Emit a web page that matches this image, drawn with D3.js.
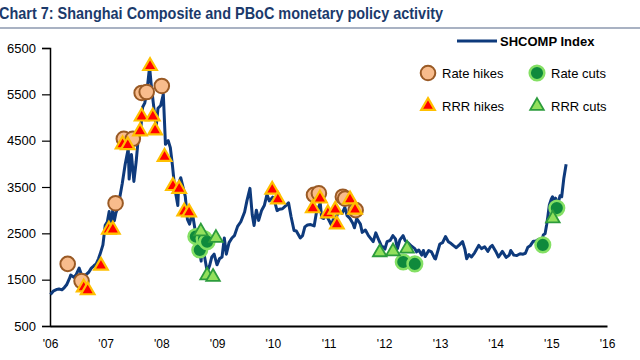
<!DOCTYPE html>
<html><head><meta charset="utf-8">
<script src="https://cdn.jsdelivr.net/npm/d3@7"></script>
<style>
html,body{margin:0;padding:0;background:#fff;}
svg{display:block;}
</style></head>
<body>
<svg id="c" width="640" height="360"></svg>
<script>
// ---------- DATA ----------
const titleText = "Chart 7: Shanghai Composite and PBoC monetary policy activity";
const yTicks = [500, 1500, 2500, 3500, 4500, 5500, 6500];
const xTickYears = [2006,2007,2008,2009,2010,2011,2012,2013,2014,2015,2016];
const xTickLabels = ["'06","'07","'08","'09","'10","'11","'12","'13","'14","'15","'16"];

const shDates = [
"2006-01-04","2006-01-25","2006-02-15","2006-03-01","2006-03-20","2006-04-05","2006-04-20","2006-05-08","2006-05-17","2006-06-07","2006-06-20","2006-07-11","2006-07-25","2006-08-07","2006-08-25","2006-09-12","2006-09-29","2006-10-16","2006-10-31","2006-11-15","2006-11-30","2006-12-14","2006-12-29",
"2007-01-12","2007-01-24","2007-02-02","2007-02-16","2007-02-27","2007-03-09","2007-03-23","2007-04-06","2007-04-20","2007-05-09","2007-05-29","2007-06-04","2007-06-19","2007-07-05","2007-07-20","2007-08-03","2007-08-17","2007-08-31","2007-09-14","2007-09-28","2007-10-16","2007-10-26","2007-11-09","2007-11-28","2007-12-10","2007-12-28",
"2008-01-14","2008-01-28","2008-02-15","2008-02-29","2008-03-14","2008-03-28","2008-04-18","2008-04-24","2008-05-07","2008-05-22","2008-06-06","2008-06-20","2008-07-04","2008-07-22","2008-08-08","2008-08-20","2008-09-04","2008-09-18","2008-09-25","2008-10-10","2008-10-28","2008-11-12","2008-11-27","2008-12-12","2008-12-31",
"2009-01-16","2009-02-02","2009-02-17","2009-03-02","2009-03-20","2009-04-08","2009-04-24","2009-05-15","2009-06-05","2009-06-30","2009-07-15","2009-08-04","2009-08-19","2009-08-31","2009-09-15","2009-09-30","2009-10-20","2009-11-06","2009-11-24","2009-12-09","2009-12-31",
"2010-01-11","2010-01-29","2010-02-12","2010-03-05","2010-03-31","2010-04-14","2010-04-30","2010-05-20","2010-06-04","2010-06-30","2010-07-15","2010-07-30","2010-08-16","2010-09-06","2010-09-29","2010-10-15","2010-11-08","2010-11-17","2010-12-01","2010-12-14","2010-12-31",
"2011-01-20","2011-02-01","2011-02-22","2011-03-09","2011-03-31","2011-04-18","2011-05-03","2011-05-20","2011-06-10","2011-06-20","2011-07-05","2011-07-29","2011-08-10","2011-08-31","2011-09-20","2011-10-21","2011-11-07","2011-11-30","2011-12-15","2011-12-30",
"2012-01-06","2012-01-20","2012-02-10","2012-02-27","2012-03-15","2012-03-28","2012-04-13","2012-05-04","2012-05-18","2012-06-04","2012-06-29","2012-07-20","2012-07-31","2012-08-15","2012-09-03","2012-09-14","2012-09-26","2012-10-19","2012-11-06","2012-11-27","2012-12-03","2012-12-31",
"2013-01-18","2013-02-06","2013-02-25","2013-03-15","2013-03-29","2013-04-18","2013-05-08","2013-05-29","2013-06-13","2013-06-25","2013-07-10","2013-07-26","2013-08-16","2013-09-12","2013-09-30","2013-10-21","2013-11-11","2013-11-26","2013-12-10","2013-12-31",
"2014-01-20","2014-02-14","2014-03-11","2014-03-31","2014-04-10","2014-04-30","2014-05-20","2014-06-10","2014-06-30","2014-07-15","2014-07-31","2014-08-15","2014-09-05","2014-09-19","2014-10-10","2014-10-27","2014-11-10","2014-11-21","2014-12-01","2014-12-09","2014-12-19","2014-12-31",
"2015-01-09","2015-01-19","2015-01-29","2015-02-09","2015-02-27","2015-03-10","2015-03-24","2015-04-08"];
const shValues = [
1180,1260,1290,1300,1280,1330,1390,1520,1600,1550,1600,1750,1620,1550,1610,1660,1750,1800,1840,1950,2100,2250,2675,
2750,2970,2650,2990,2770,2940,3070,3320,3580,3990,4330,3670,4200,3620,4050,4560,4660,5220,5310,5550,6090,5730,5320,4800,5200,5260,
5500,4420,4500,4350,3960,3500,3100,3580,3700,3500,3300,2800,2700,2950,2600,2350,2200,1900,2300,2000,1670,1800,1990,2050,1820,
1950,1990,2400,2050,2300,2400,2450,2650,2750,2960,3200,3470,2900,2670,3000,2780,3000,3100,3340,3200,3280,
3210,2990,3020,3030,3110,3160,2870,2560,2550,2400,2450,2640,2680,2690,2660,2970,3150,2840,2820,2920,2810,
2680,2800,2850,2990,2930,3060,2880,2830,2710,2620,2820,2700,2520,2570,2450,2320,2510,2330,2220,2200,
2160,2320,2350,2450,2380,2170,2360,2450,2340,2300,2220,2170,2100,2140,2030,2130,2000,2130,2100,1960,1950,2270,
2300,2430,2320,2280,2240,2190,2250,2320,2160,1950,2040,1990,2080,2240,2170,2210,2110,2200,2240,2120,
1990,2110,1980,2030,2130,2030,2020,2060,2050,2070,2200,2230,2330,2330,2370,2290,2470,2490,2680,2860,3110,3230,
3290,3120,3260,3090,3310,3290,3690,3990];

const rateHikeDates  = ["2006-04-27","2006-07-27","2007-03-07","2007-04-30","2007-06-28","2007-08-25","2007-09-27","2008-01-04","2010-09-28","2010-10-30","2011-04-05","2011-04-20","2011-06-28"];
const rateHikeValues = [1840,1470,3150,4540,4540,5530,5550,5680,3330,3365,3290,3250,3000];

const rateCutDates  = ["2008-08-14","2008-09-09","2008-10-07","2008-10-27","2012-05-05","2012-07-20","2014-11-06","2015-02-06"];
const rateCutValues = [2430,2140,2390,2320,1880,1840,2250,3045];

const rrrHikeDates  = ["2006-08-10","2006-09-05","2006-12-01","2007-01-22","2007-02-17","2007-04-22","2007-05-26","2007-08-14","2007-08-25","2007-10-19","2007-11-06","2007-11-21","2008-01-22","2008-03-17","2008-04-27","2008-05-30","2008-07-01","2009-12-28","2010-02-03","2010-09-20","2010-11-06","2010-12-28","2011-02-14","2011-02-25","2011-05-22","2011-06-24"];
const rrrHikeValues = [1330,1270,1800,2580,2580,4420,4400,4700,5020,6110,5020,4720,4150,3520,3460,2970,2950,3440,3230,3040,3250,2930,3010,2690,3230,3010];

const rrrCutDates  = ["2008-09-16","2008-12-24","2008-10-27","2008-12-05","2011-12-03","2012-02-28","2012-05-30","2015-01-11"];
const rrrCutValues = [2540,2400,1590,1560,2090,2110,2170,2820];

// ---------- CHART ----------
const svg = d3.select("#c");
const parse = d3.timeParse("%Y-%m-%d");
const x = d3.scaleTime().domain([new Date(2006,0,1), new Date(2016,0,1)]).range([50, 607]);
const y = d3.scaleLinear().domain([500, 6500]).range([326, 48]);

// title (condensed bold to mimic narrow face)
svg.append("text").attr("x", -1).attr("y", 19)
  .attr("font-family", "'Liberation Sans',Arial,sans-serif")
  .attr("font-weight", "bold").attr("font-size", 17).attr("fill", "#1B3A6B")
  .attr("textLength", 444).attr("lengthAdjust", "spacingAndGlyphs")
  .text(titleText);
svg.append("line").attr("x1", 0).attr("x2", 640).attr("y1", 28).attr("y2", 28)
  .attr("stroke", "#A9B2C3").attr("stroke-width", 2);

// y axis
const yAxis = d3.axisLeft(y).tickValues(yTicks).tickSize(8).tickPadding(6).tickFormat(d3.format("d"));
const gy = svg.append("g").attr("transform", "translate(50,0)").call(yAxis);
gy.select(".domain").attr("stroke", "#000").attr("stroke-width", 1.5);
gy.selectAll(".tick line").attr("stroke", "#000").attr("stroke-width", 1.2);
gy.selectAll("text").attr("font-family", "'Liberation Sans',Arial,sans-serif").attr("font-size", 13).attr("fill", "#000");

// x axis
const xAxis = d3.axisBottom(x)
  .tickValues(xTickYears.map(yr => new Date(yr,0,1)))
  .tickSize(0).tickPadding(13)
  .tickFormat((d,i) => xTickLabels[i]);
const gx = svg.append("g").attr("transform", "translate(0,326)").call(xAxis);
gx.select(".domain").attr("stroke", "#000").attr("stroke-width", 2);
gx.selectAll("text").attr("font-family", "'Liberation Sans',Arial,sans-serif").attr("font-size", 12).attr("fill", "#000");

// line
const shData = shDates.map((d,i) => ({d: parse(d), v: shValues[i]}));
const line = d3.line().x(p => x(p.d)).y(p => y(p.v));
svg.append("path").datum(shData).attr("d", line)
  .attr("fill", "none").attr("stroke", "#0E3A7C").attr("stroke-width", 3).attr("stroke-linejoin", "round");

// marker styles
const styles = {
  rateHike: {fill: "#F8BC8C", stroke: "#9A5A25", sw: 2},
  rateCut:  {fill: "#0F8A3C", stroke: "#84E064", sw: 2.5},
  rrrHike:  {fill: "#FF0000", stroke: "#FFC000", sw: 2.2},
  rrrCut:   {fill: "#92E05C", stroke: "#2C9C3C", sw: 1.8}
};
const circR = 7.3;
const triSize = 80;

function circles(dates, vals, st) {
  svg.append("g").selectAll("circle").data(dates.map((d,i)=>({d: parse(d), v: vals[i]})))
    .join("circle").attr("cx", p => x(p.d)).attr("cy", p => y(p.v)).attr("r", circR)
    .attr("fill", st.fill).attr("stroke", st.stroke).attr("stroke-width", st.sw);
}
function triangles(dates, vals, st) {
  svg.append("g").selectAll("path").data(dates.map((d,i)=>({d: parse(d), v: vals[i]})))
    .join("path").attr("d", d3.symbol(d3.symbolTriangle, triSize))
    .attr("transform", p => `translate(${x(p.d)},${y(p.v)})`)
    .attr("fill", st.fill).attr("stroke", st.stroke).attr("stroke-width", st.sw).attr("stroke-linejoin", "miter");
}
circles(rateHikeDates, rateHikeValues, styles.rateHike);
circles(rateCutDates, rateCutValues, styles.rateCut);
triangles(rrrHikeDates, rrrHikeValues, styles.rrrHike);
triangles(rrrCutDates, rrrCutValues, styles.rrrCut);

// legend
const lg = svg.append("g").attr("font-family", "'Liberation Sans',Arial,sans-serif").attr("font-size", 13).attr("fill", "#000");
lg.append("line").attr("x1", 457).attr("x2", 497).attr("y1", 41).attr("y2", 41).attr("stroke", "#0E3A7C").attr("stroke-width", 3);
lg.append("text").attr("x", 500).attr("y", 45.5).attr("font-weight", "bold").text("SHCOMP Index");
const legItems = [
  {type: "c", st: styles.rateHike, x: 428, y: 73, label: "Rate hikes"},
  {type: "c", st: styles.rateCut,  x: 537, y: 73, label: "Rate cuts"},
  {type: "t", st: styles.rrrHike,  x: 428, y: 106, label: "RRR hikes"},
  {type: "t", st: styles.rrrCut,   x: 537, y: 106, label: "RRR cuts"}
];
legItems.forEach(it => {
  if (it.type === "c") {
    lg.append("circle").attr("cx", it.x).attr("cy", it.y).attr("r", circR)
      .attr("fill", it.st.fill).attr("stroke", it.st.stroke).attr("stroke-width", it.st.sw);
  } else {
    lg.append("path").attr("d", d3.symbol(d3.symbolTriangle, triSize)).attr("transform", `translate(${it.x},${it.y})`)
      .attr("fill", it.st.fill).attr("stroke", it.st.stroke).attr("stroke-width", it.st.sw);
  }
  lg.append("text").attr("x", it.x + 14).attr("y", it.y + 5).text(it.label);
});
</script>
</body></html>
